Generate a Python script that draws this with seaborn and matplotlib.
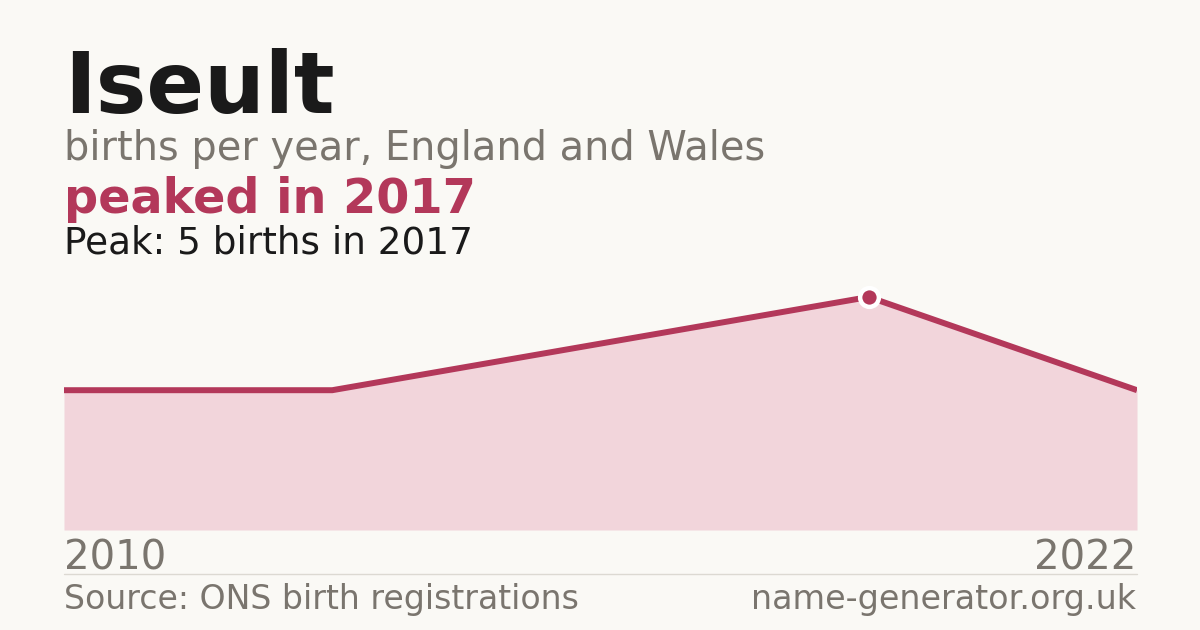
import numpy as np
import pandas as pd
import matplotlib
matplotlib.use("Agg")
import matplotlib.pyplot as plt
import seaborn as sns

# data
years = [2010, 2012, 2015, 2017, 2022]
births = [3, 3, 4, 5, 3]
name = "Iseult"
peak_year = 2017
peak_births = 5

BG = "#faf9f5"
ACCENT = "#b3385a"
FILL = "#f2d5db"
INK = "#1a1a1a"
GREY = "#7a756e"

sns.set_theme(style="white")
plt.rcParams['font.family'] = ['DejaVu Sans']

W, H = 1200, 630
fig = plt.figure(figsize=(W / 100, H / 100), dpi=100, facecolor=BG)

def px(x, y):
    return x / W, 1 - y / H

# plot area: x 64..1137, baseline at y=530
ax = fig.add_axes([64 / W, 1 - 530 / H, (1137 - 64) / W, 250 / H])
ax.set_facecolor(BG)

df = pd.DataFrame({"idx": np.arange(len(years)), "year": years, "births": births})
ax.fill_between(df["idx"], 0, df["births"], color=FILL, lw=0)
sns.lineplot(data=df, x="idx", y="births", ax=ax, color=ACCENT, lw=4.3,
             solid_capstyle="butt", solid_joinstyle="miter")
pk = df[df["year"] == peak_year]
ax.plot(pk["idx"], pk["births"], "o", ms=13.5, color=ACCENT, mec="white", mew=3.2, zorder=5,
        clip_on=False)

ax.set_xlim(0, len(years) - 1)
ax.set_ylim(0, peak_births * 250 / 233)
ax.axis("off")

# headings
fig.text(*px(64, 113), name, fontsize=61.4, fontweight="bold", color=INK, va="baseline")
fig.text(*px(64, 160), "births per year, England and Wales", fontsize=28.7, color=GREY, va="baseline")
fig.text(*px(64, 213), f"peaked in {peak_year}", fontsize=34.4, fontweight="bold", color=ACCENT, va="baseline")
fig.text(*px(64, 253), f"Peak: {peak_births} births in {peak_year}", fontsize=26.9, color=INK, va="baseline")

# x labels
fig.text(*px(64, 570), str(years[0]), fontsize=29, color=GREY, va="baseline")
fig.text(*px(1136, 570), str(years[-1]), fontsize=29, color=GREY, va="baseline", ha="right")

# separator + footer
fig.add_artist(plt.Line2D([64 / W, 1137 / W], [1 - 574 / H] * 2, color="#dcd9d2", lw=1))
fig.text(*px(64, 609), "Source: ONS birth registrations", fontsize=23.9, color=GREY, va="baseline")
fig.text(*px(1136, 609), "name-generator.org.uk", fontsize=24, color=GREY, va="baseline", ha="right")

fig.savefig("out.png", dpi=100, facecolor=BG)
